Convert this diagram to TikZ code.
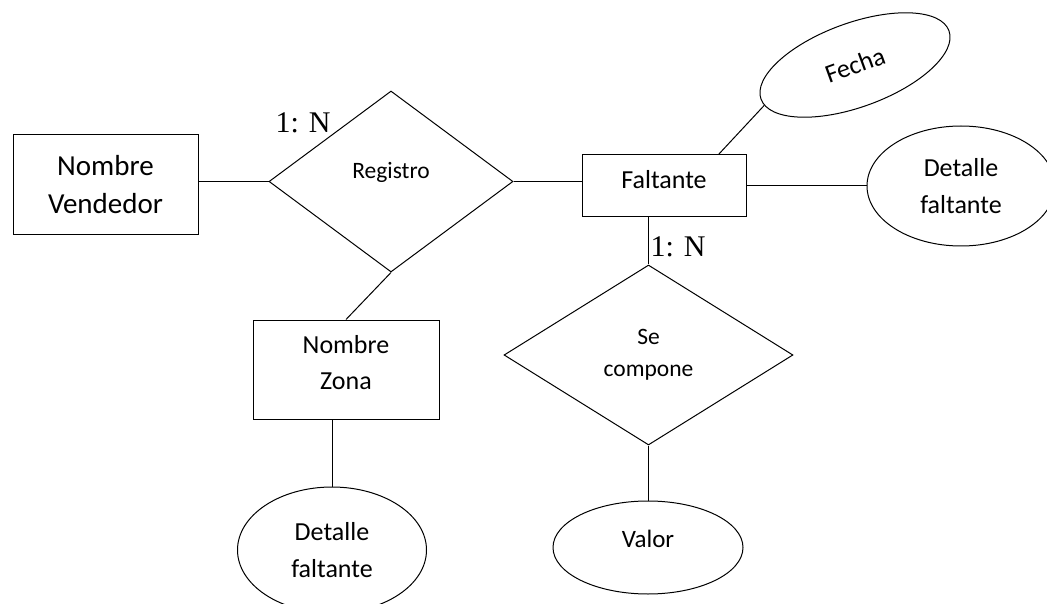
\documentclass[tikz,border=0pt]{standalone}
\usepackage{fontspec}
\setmainfont{Carlito}
\newfontfamily\timesf{Liberation Serif}
\usetikzlibrary{shapes.geometric}
\begin{document}
\begin{tikzpicture}[x=1pt,y=-1pt, line width=1pt,
  entity/.style={draw, rectangle, inner sep=0pt, align=center},
  rel/.style={draw, diamond, inner sep=0pt, align=center, font=\fontsize{23.5}{32}\selectfont},
  attr/.style={draw, ellipse, inner sep=0pt, align=center, font=\fontsize{26}{37}\selectfont},
  card/.style={font=\timesf\fontsize{30}{36}\selectfont, anchor=base west, inner sep=0pt},
  conn/.style={draw, line width=1pt}]
\useasboundingbox (0,0) rectangle (1047,604);
% entities
\node[entity, minimum width=185pt, minimum height=100pt, font=\fontsize{29}{38}\selectfont] (nv) at (105.5,185) {Nombre\\Vendedor};
\node[entity, minimum width=164pt, minimum height=62pt, text depth=14pt, font=\fontsize{26}{34}\selectfont] (falt) at (664,186) {Faltante};
\node[entity, minimum width=186pt, minimum height=99pt, text depth=14pt, font=\fontsize{26}{36}\selectfont] (nz) at (346,369.5) {Nombre\\Zona};
% relationships
\node[rel, minimum width=244pt, minimum height=181pt, text depth=22pt] (reg) at (391,181.5) {Registro};
\node[rel, minimum width=289pt, minimum height=180pt] (sc) at (648.5,355) {Se\\compone};
% attributes
\node[attr, minimum width=200pt, minimum height=84pt, rotate=20, font=\fontsize{26}{30}\selectfont] (fecha) at (855,65) {Fecha};
\node[attr, minimum width=188pt, minimum height=120pt] (det1) at (961,186) {Detalle\\faltante};
\node[attr, minimum width=189pt, minimum height=126pt] (det2) at (332,550) {Detalle\\faltante};
\node[attr, minimum width=190pt, minimum height=93pt, text depth=17pt, font=\fontsize{25}{30}\selectfont] (val) at (648,547.5) {Valor};
% cardinalities
\node[card] (c1) at (275,133) {1: N};
\node[card] (c2) at (650,257) {1: N};
% connectors
\coordinate (fa) at ([xshift=-28pt]falt.north east);
\path[conn] (reg.west -| nv.east) -- (reg.west);
\path[conn] (reg.east) -- (reg.east -| falt.west);
\path[conn] (det1.west -| falt.east) -- (det1.west);
\path[conn] (fa) -- (fecha.184);
\path[conn] (sc.north |- falt.south) -- (sc.north);
\path[conn] (reg.south) -- (nz.north);
\path[conn] (det2.north |- nz.south) -- (det2.north);
\path[conn] (sc.south) -- (sc.south |- val.north);
\end{tikzpicture}
\end{document}
